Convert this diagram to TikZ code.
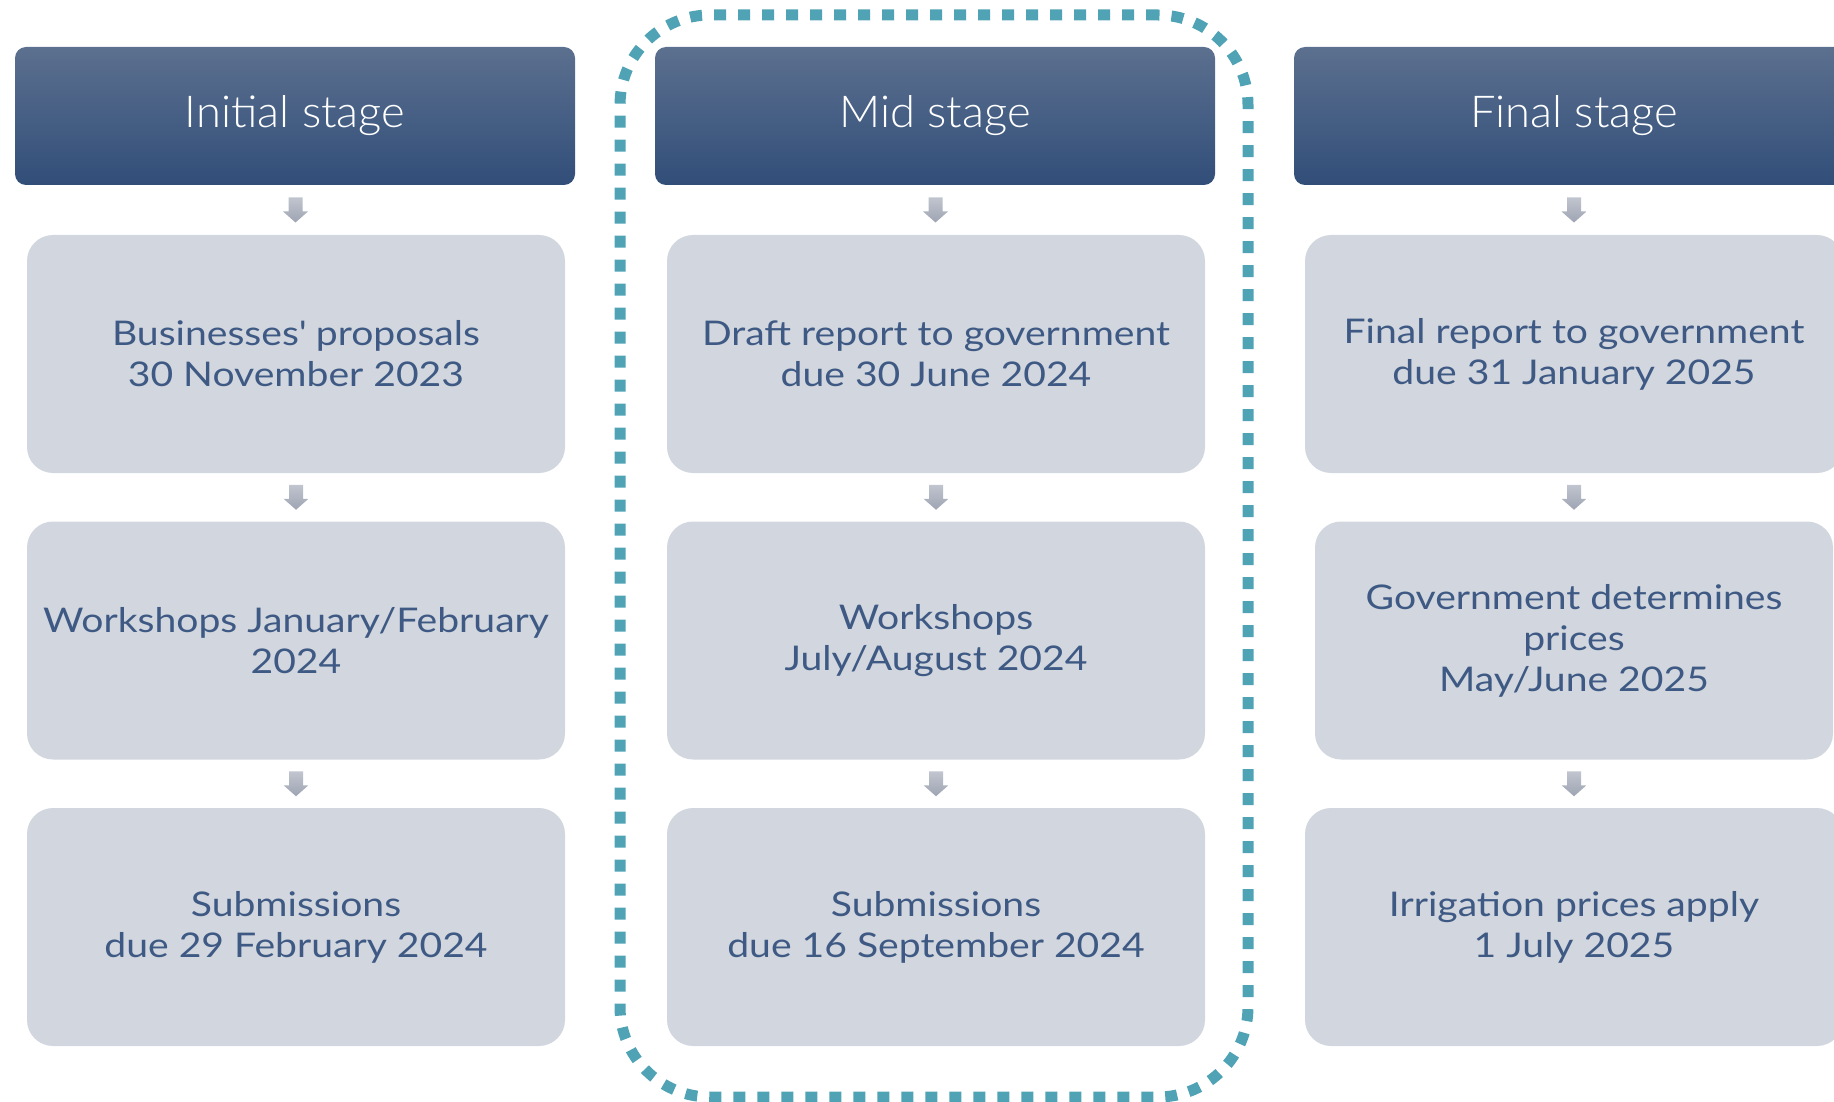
\documentclass[tikz,border=0pt]{standalone}
\usepackage{fontspec}
\setmainfont{Lato}[FakeStretch=1.15]
\newfontfamily\hdrfont{Lato Light}[FakeStretch=1.03]
\usetikzlibrary{calc}
\definecolor{hdrtop}{RGB}{92,112,143}
\definecolor{hdrbot}{RGB}{49,78,121}
\definecolor{boxfill}{RGB}{210,214,222}
\definecolor{txtcol}{RGB}{62,90,132}
\definecolor{framecol}{RGB}{80,163,181}
\definecolor{arrtop}{RGB}{192,197,207}
\definecolor{arrbot}{RGB}{158,164,178}
\newcommand\blockarrow[1]{%
  \shade[top color=arrtop,bottom color=arrbot]
    ($(#1)+(-7,-12.5)$) -- ($(#1)+(7,-12.5)$) -- ($(#1)+(7,1.5)$) --
    ($(#1)+(12.5,1.5)$) -- ($(#1)+(0,12.5)$) -- ($(#1)+(-12.5,1.5)$) --
    ($(#1)+(-7,1.5)$) -- cycle;}
\newcommand\hdrtext[1]{\raisebox{-3pt}{#1}}
\begin{document}
\begin{tikzpicture}[x=1pt,y=-1pt,
  header/.style={rounded corners=11pt, minimum width=560pt, minimum height=138pt,
    top color=hdrtop, bottom color=hdrbot, text=white, inner sep=0pt,
    font=\hdrfont\fontsize{44}{52}\selectfont},
  stagebox/.style={rounded corners=26pt, fill=boxfill, minimum width=538pt,
    minimum height=238pt, text=txtcol, align=center, inner sep=0pt,
    font=\fontsize{34}{41}\selectfont},
  framebox/.style={draw=framecol, line width=11pt, dash pattern=on 12pt off 12pt,
    rounded corners=90pt, minimum width=628pt, minimum height=1082pt, inner sep=0pt}]
\useasboundingbox (0,0) rectangle (1834,1102);
\clip (0,0) rectangle (1834,1102);

\node[framebox] (frame) at (934,556) {};

\node[header] (h1) at (295,116) {\hdrtext{Initial stage}};
\node[header] (h2) at (935,116) {\hdrtext{Mid stage}};
\node[header] (h3) at (1574,116) {\hdrtext{Final stage}};

\node[stagebox] (a1) at (296,354) {Businesses\textquotesingle{} proposals\\30 November 2023};
\node[stagebox] (a2) at (296,640.5) {Workshops January/February\\2024};
\node[stagebox] (a3) at (296,927) {Submissions\\due 29 February 2024};

\node[stagebox] (b1) at (936,354) {Draft report to government\\due 30 June 2024};
\node[stagebox] (b2) at (936,640.5) {Workshops\\July/August 2024};
\node[stagebox] (b3) at (936,927) {Submissions\\due 16 September 2024};

\node[stagebox] (c1) at (1574,354) {Final report to government\\due 31 January 2025};
\node[stagebox, minimum width=518pt] (c2) at (1574,640.5) {Government determines\\prices\\May/June 2025};
\node[stagebox] (c3) at (1574,927) {Irrigation prices apply\\1 July 2025};

\foreach \h/\p/\q/\r in {h1/a1/a2/a3, h2/b1/b2/b3, h3/c1/c2/c3}{
  \coordinate (\h-m1) at ($(\h.south)!0.5!(\p.north)$);
  \coordinate (\h-m2) at ($(\p.south)!0.5!(\q.north)$);
  \coordinate (\h-m3) at ($(\q.south)!0.5!(\r.north)$);
  \blockarrow{\h-m1}
  \blockarrow{\h-m2}
  \blockarrow{\h-m3}
}
\end{tikzpicture}
\end{document}
